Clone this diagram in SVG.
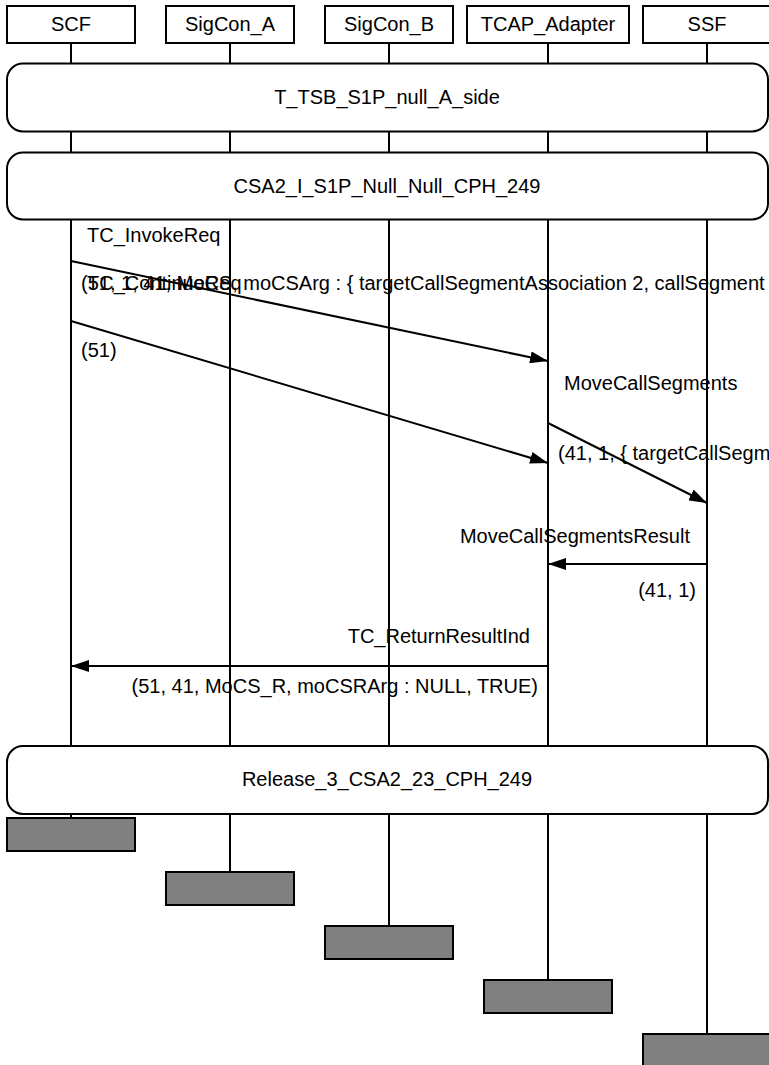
<svg xmlns="http://www.w3.org/2000/svg" width="769" height="1065" viewBox="0 0 769 1065">
<defs>
<marker id="ah" markerWidth="18" markerHeight="12" refX="18" refY="6" orient="auto" markerUnits="userSpaceOnUse"><path d="M0,0 L18,6 L0,12 z" fill="#000"/></marker>
</defs>
<style>
text{font-family:"Liberation Sans",Arial,sans-serif;font-size:20px;fill:#000}
.hdr{fill:#fff;stroke:#000;stroke-width:2}
.life{stroke:#000;stroke-width:2;fill:none}
.ref{fill:#fff;stroke:#000;stroke-width:2}
.end{fill:#808080;stroke:#000;stroke-width:2}
.msg{stroke:#000;stroke-width:2;fill:none;marker-end:url(#ah)}
.mid{text-anchor:middle}
.rt{text-anchor:end}
</style>
<rect width="769" height="1065" fill="#fff"/>
<g id="lifelines">
<line class="life" x1="71" y1="43" x2="71" y2="818"/>
<line class="life" x1="230" y1="43" x2="230" y2="872"/>
<line class="life" x1="389" y1="43" x2="389" y2="926"/>
<line class="life" x1="548" y1="43" x2="548" y2="980"/>
<line class="life" x1="707" y1="43" x2="707" y2="1034"/>
</g>
<g id="SCF"><rect class="hdr" x="7" y="6" width="128" height="37"/><text class="mid" x="71" y="31">SCF</text><rect class="end" x="7" y="818" width="128" height="33"/></g>
<g id="SigCon_A"><rect class="hdr" x="166" y="6" width="128" height="37"/><text class="mid" x="230" y="31">SigCon_A</text><rect class="end" x="166" y="872" width="128" height="33"/></g>
<g id="SigCon_B"><rect class="hdr" x="325" y="6" width="128" height="37"/><text class="mid" x="389" y="31">SigCon_B</text><rect class="end" x="325" y="926" width="128" height="33"/></g>
<g id="TCAP_Adapter"><rect class="hdr" x="467" y="6" width="162" height="37"/><text class="mid" x="548" y="31">TCAP_Adapter</text><rect class="end" x="484" y="980" width="128" height="33"/></g>
<g id="SSF"><rect class="hdr" x="643" y="6" width="128" height="37"/><text class="mid" x="707" y="31">SSF</text><rect class="end" x="643" y="1034" width="128" height="33"/></g>
<g id="T_TSB_S1P_null_A_side"><rect class="ref" x="7" y="63.5" width="761" height="68" rx="16" ry="16"/><text class="mid" x="387" y="104">T_TSB_S1P_null_A_side</text></g>
<g id="CSA2_I_S1P_Null_Null_CPH_249"><rect class="ref" x="7" y="152.5" width="761" height="67" rx="16" ry="16"/><text class="mid" x="387" y="193">CSA2_I_S1P_Null_Null_CPH_249</text></g>
<g id="Release_3_CSA2_23_CPH_249"><rect class="ref" x="7" y="746" width="761" height="68" rx="16" ry="16"/><text class="mid" x="387" y="786">Release_3_CSA2_23_CPH_249</text></g>
<g id="connectors">
<line class="msg" x1="71" y1="261" x2="548" y2="361"/>
<line class="msg" x1="71" y1="321" x2="548" y2="463"/>
<line class="msg" x1="548" y1="423" x2="707" y2="503"/>
<line class="msg" x1="707" y1="564" x2="548" y2="564"/>
<line class="msg" x1="548" y1="666" x2="71" y2="666"/>
</g>
<g id="labels">
<text x="87" y="242">TC_InvokeReq</text>
<text x="81" y="290">(51, 1, 41, MoCS, moCSArg : { targetCallSegmentAssociation 2, callSegment</text>
<text x="87" y="290">TC_ContinueReq</text>
<text x="81" y="357">(51)</text>
<text x="564" y="390">MoveCallSegments</text>
<text x="558" y="460">(41, 1, { targetCallSegm</text>
<text class="rt" x="690" y="543">MoveCallSegmentsResult</text>
<text class="rt" x="696" y="597">(41, 1)</text>
<text class="rt" x="530" y="643">TC_ReturnResultInd</text>
<text class="rt" x="538" y="693">(51, 41, MoCS_R, moCSRArg : NULL, TRUE)</text>
</g>
</svg>
